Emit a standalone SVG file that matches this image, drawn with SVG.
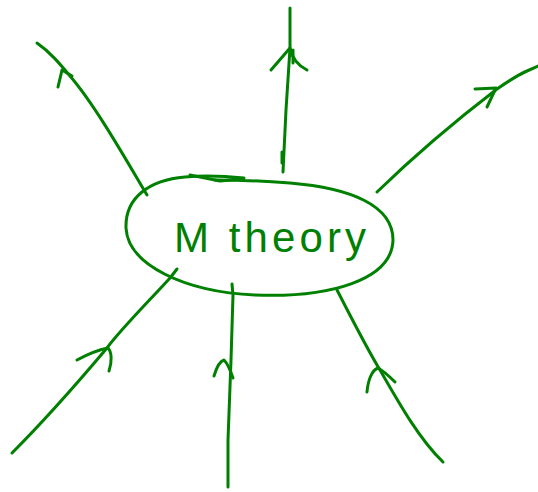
<svg xmlns="http://www.w3.org/2000/svg" width="538" height="492" viewBox="0 0 538 492">
<style>
.s{fill:none;stroke:#008000;stroke-width:3;stroke-linecap:round;stroke-linejoin:round}
.t{font-family:"Liberation Sans",Arial,sans-serif;font-size:42px;fill:#008000}
</style>
<rect width="538" height="492" fill="#ffffff"/>
<g id="connectors">
  <g id="c-topleft">
    <path class="s" d="M147,195 C125,158 95,105 70,76 C60,64 50,52 37,43"/>
    <path class="s" d="M58,87 L62,70 L72,76"/>
  </g>
  <g id="c-top">
    <path class="s" d="M283,172 L286,110 L290,48 L290,8"/>
    <path class="s" d="M282,152 L282,163"/>
    <path class="s" d="M271,70 L290,48 C292,58 297,65 307,70"/>
    <path class="s" d="M293,50 L293,63"/>
  </g>
  <g id="c-topright">
    <path class="s" d="M377,192 C410,160 450,125 497,89 C510,80 520,74 527,71 L538,66"/>
    <path class="s" d="M475,89 L496,88 L487,107"/>
  </g>
  <g id="c-bottomleft">
    <path class="s" d="M177,269 L170,278 C150,300 120,330 107,348 C80,380 40,425 12,453"/>
    <path class="s" d="M77,360 C88,354 98,350 108,348 C112,352 112,362 109,371"/>
  </g>
  <g id="c-bottom">
    <path class="s" d="M232,284 L233,295 L231,360 L228,440 L228,487"/>
    <path class="s" d="M214,376 C217,366 220,361 224,360 C228,364 231,372 233,378"/>
  </g>
  <g id="c-bottomright">
    <path class="s" d="M337,290 C350,315 365,345 380,370 C400,405 420,440 443,462"/>
    <path class="s" d="M367,392 C368,380 372,370 378,368 C385,372 390,377 395,382"/>
  </g>
</g>
<g id="node-mtheory">
  <path class="s" d="M244,178 C225,176 205,175 185,177 C150,180 125,197 126,228 C128,265 185,292 255,295 C330,298 392,280 393,240 C393,205 350,188 290,183 C265,181 240,180 215,180"/>
  <path class="s" d="M190,175 L220,181 L243,179"/>
  <text class="t" x="174" y="252" textLength="192" lengthAdjust="spacing">M theory</text>
</g>
</svg>
